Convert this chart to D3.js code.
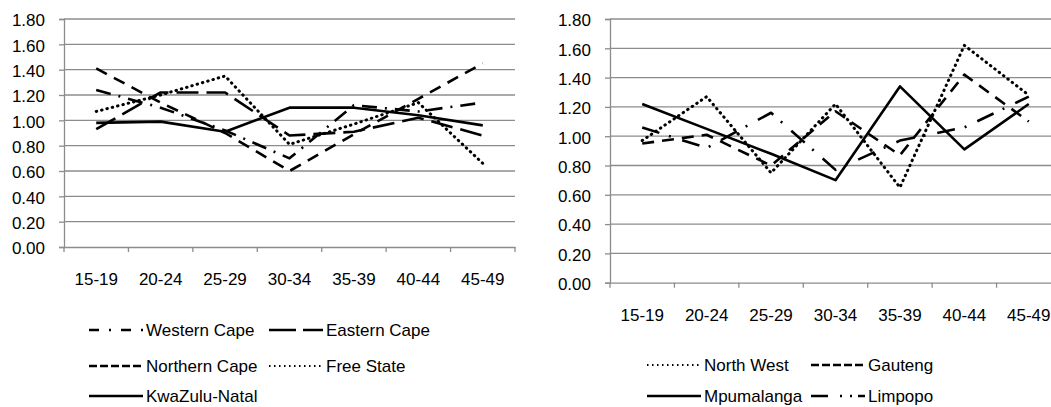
<!DOCTYPE html>
<html>
<head>
<meta charset="utf-8">
<script src="https://cdn.jsdelivr.net/npm/d3@7"></script>
<style>
  body { margin: 0; background: #fff; }
  text { font-family: "Liberation Sans", Arial, sans-serif; font-size: 17px; fill: #000; }
</style>
</head>
<body>
<script>
const width = 1051;
const height = 407;

// data
const ageGroups = ["15-19", "20-24", "25-29", "30-34", "35-39", "40-44", "45-49"];
const yTicks = [0, 0.2, 0.4, 0.6, 0.8, 1.0, 1.2, 1.4, 1.6, 1.8];

const westernCape  = [1.24, 1.10, 0.92, 0.70, 1.12, 1.07, 1.14];
const easternCape  = [0.93, 1.22, 1.22, 0.88, 0.91, 1.02, 0.88];
const northernCape = [1.41, 1.14, 0.90, 0.60, 0.89, 1.17, 1.45];
const freeState    = [1.07, 1.20, 1.35, 0.81, 0.97, 1.14, 0.66];
const kwaZuluNatal = [0.98, 0.99, 0.91, 1.10, 1.10, 1.04, 0.96];

const northWest  = [0.97, 1.27, 0.75, 1.22, 0.65, 1.62, 1.28];
const gauteng    = [0.95, 1.01, 0.80, 1.17, 0.87, 1.42, 1.10];
const mpumalanga = [1.22, 1.05, 0.88, 0.70, 1.34, 0.91, 1.22];
const limpopo    = [1.06, 0.92, 1.16, 0.77, 0.97, 1.06, 1.27];

// line styles (chart dash, legend dash)
const styles = {
  longDashDot: { dash: "15,8,2,8", legend: "10,10,2,10" },
  longDash:    { dash: "22,8",     legend: "27,7" },
  dash:        { dash: "12,8",     legend: "8,3" },
  dot:         { dash: "0.5,5",    legend: "1.5,3.5" },
  solid:       { dash: null,       legend: null },
  limpopoDash: { dash: "18,10,2,12", legend: "17,12,2,8,2,6" }
};

const leftSeries = [
  { name: "Western Cape",  values: westernCape,  style: styles.longDashDot },
  { name: "Eastern Cape",  values: easternCape,  style: styles.longDash },
  { name: "Northern Cape", values: northernCape, style: styles.dash },
  { name: "Free State",    values: freeState,    style: styles.dot },
  { name: "KwaZulu-Natal", values: kwaZuluNatal, style: styles.solid }
];
const rightSeries = [
  { name: "North West", values: northWest,  style: styles.dot },
  { name: "Gauteng",    values: gauteng,    style: styles.dash },
  { name: "Mpumalanga", values: mpumalanga, style: styles.solid },
  { name: "Limpopo",    values: limpopo,    style: styles.limpopoDash }
];

const svg = d3.select("body")
  .append("svg")
  .attr("width", width)
  .attr("height", height);

const gridColor = "#8c8c8c";

const drawChart = (cfg) => {
  const x = d3.scaleBand().domain(ageGroups).range([cfg.left, cfg.right]);
  const y = d3.scaleLinear().domain([0, 1.8]).range([cfg.bottom, cfg.top]);
  const g = svg.append("g");

  // gridlines
  g.selectAll("line.grid").data(yTicks.slice(1)).enter().append("line")
    .attr("x1", cfg.left).attr("x2", cfg.right)
    .attr("y1", d => y(d)).attr("y2", d => y(d))
    .attr("stroke", gridColor).attr("stroke-width", 1.3);

  // y axis
  const yAxis = g.append("g")
    .attr("transform", `translate(${cfg.left},0)`)
    .call(d3.axisLeft(y).tickValues(yTicks).tickSize(5).tickFormat(d3.format(".2f")).tickPadding(14));
  yAxis.select(".domain").attr("stroke", gridColor).attr("stroke-width", 1.3);
  yAxis.selectAll(".tick line").attr("stroke", gridColor).attr("stroke-width", 1.3);
  yAxis.selectAll("text").attr("dy", "0.40em").style("font-size", "17px").attr("fill", "#000");

  // x axis
  const xAxis = g.append("g")
    .attr("transform", `translate(0,${cfg.bottom})`)
    .call(d3.axisBottom(x).tickSize(0).tickPadding(cfg.labelPad));
  xAxis.select(".domain").attr("stroke", gridColor).attr("stroke-width", 1.3);
  xAxis.selectAll("text").style("font-size", "17px").attr("fill", "#000");

  // tick marks between categories
  const bounds = ageGroups.map(d => x(d)).concat([cfg.right]);
  g.selectAll("line.xtick").data(bounds).enter().append("line")
    .attr("x1", d => d).attr("x2", d => d)
    .attr("y1", cfg.bottom).attr("y2", cfg.bottom + 5)
    .attr("stroke", gridColor).attr("stroke-width", 1.3);

  const line = d3.line()
    .x((d, i) => x(ageGroups[i]) + x.bandwidth() / 2)
    .y(d => y(d));

  g.selectAll("path.series").data(cfg.series).enter().append("path")
    .attr("d", d => line(d.values))
    .attr("fill", "none")
    .attr("stroke", "#000")
    .attr("stroke-width", d => d.style === styles.dot ? 3 : 2.6)
    .attr("stroke-dasharray", d => d.style.dash)
    .attr("stroke-linecap", d => d.style === styles.dot ? "round" : "butt")
    .attr("stroke-linejoin", "round");

  // legend
  const leg = g.selectAll("g.legend").data(cfg.series).enter().append("g")
    .attr("transform", (d, i) => `translate(${cfg.legX[i % 2]},${cfg.legY[Math.floor(i / 2)]})`);
  leg.append("line")
    .attr("x1", 0).attr("x2", 54).attr("y1", 0).attr("y2", 0)
    .attr("stroke", "#000")
    .attr("stroke-width", d => d.style === styles.dot ? 1.8 : 2.6)
    .attr("stroke-dasharray", d => d.style.legend);
  leg.append("text")
    .attr("x", cfg.textOff).attr("y", 6)
    .text(d => d.name);
};

drawChart({
  left: 64, right: 515, top: 19, bottom: 247, labelPad: 26,
  series: leftSeries,
  legX: [89, 269], legY: [330, 366, 396], textOff: 57
});

drawChart({
  left: 610, right: 1061, top: 19, bottom: 282.7, labelPad: 26,
  series: rightSeries,
  legX: [647, 811], legY: [365, 396], textOff: 57
});
</script>
</body>
</html>
